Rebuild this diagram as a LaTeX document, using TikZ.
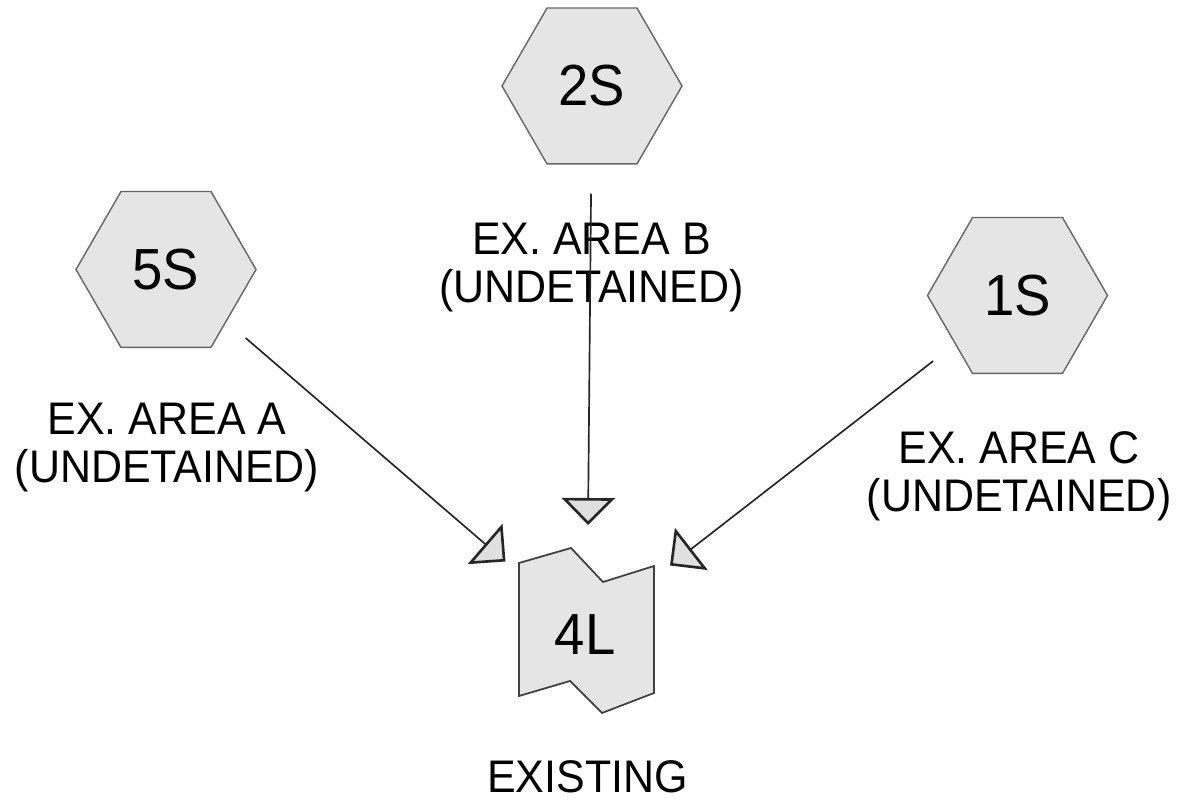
\documentclass[tikz,border=0pt]{standalone}
\usepackage{fontspec}
\setmainfont{Liberation Sans}[FakeStretch=0.94]
\usepackage{tikz}
\usetikzlibrary{arrows.meta}
\usetikzlibrary{shapes.geometric}
\tikzset{hexa/.style={regular polygon,regular polygon sides=6,minimum size=3.6cm,inner sep=0pt,draw=black!60,fill=black!10,line width=0.8pt,font=\fontsize{33}{36}\selectfont}}
\tikzset{lot/.style={draw=black!75,fill=black!10,line width=1pt,line join=miter}}
\tikzset{lbl/.style={align=center,inner sep=0pt,font=\fontsize{26}{27.3}\selectfont}}
\tikzset{inv/.style={opacity=0,inner sep=0pt,minimum size=0pt}}
\tikzset{flow/.style={draw=black!85,line width=0.95pt,-{Triangle[length=0.54cm,width=1.06cm,fill=black!12,line width=1.5pt]}}}

\begin{document}
\begin{tikzpicture}
\useasboundingbox (0,0) rectangle (23.88,16.06);
\begin{scope}
  \node[hexa] (s2) at (11.84,14.34) {2S};
  \node[hexa] (s5) at (3.32,10.67) {5S};
  \node[hexa] (s1) at (20.35,10.15) {1S};

  \draw[lot] (10.38,4.80) -- (11.42,5.10) -- (12.06,4.42) -- (13.08,4.74)
    -- (13.08,2.20) -- (12.04,1.80) -- (11.40,2.44) -- (10.38,2.14) -- cycle;
  \node[font=\fontsize{33}{36}\selectfont] (l4) at (11.70,3.36) {4L};

  \node[lbl] (ea) at (3.34,7.10) {EX. AREA A\\(UNDETAINED)};
  \node[lbl] (eb) at (11.83,10.71) {EX. AREA B\\(UNDETAINED)};
  \node[lbl] (ec) at (20.38,6.53) {EX. AREA C\\(UNDETAINED)};
  \node[lbl] (ex) at (11.75,0.52) {EXISTING};

  \node[inv] (ta) at (10.11,4.83){};
  \node[inv] (tb) at (11.76,5.56){};
  \node[inv] (tc) at (13.40,4.75){};
  \draw[flow, shorten <=0.5cm] (s5) -- (ta.center);
  \draw[flow, shorten <=0.58cm] (s2) -- (tb.center);
  \draw[flow, shorten <=0.55cm] (s1) -- (tc.center);
\end{scope}
\end{tikzpicture}
\end{document}
